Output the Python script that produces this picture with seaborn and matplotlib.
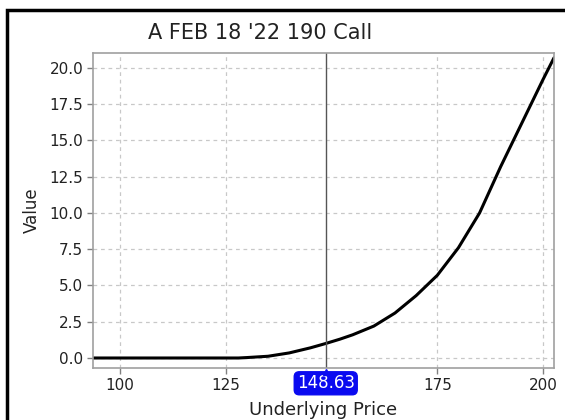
import numpy as np
import pandas as pd
import matplotlib.pyplot as plt
import seaborn as sns
from matplotlib.patches import Rectangle

# dados
precos = [93.6, 100, 105, 110, 115, 120, 125, 128, 130, 135, 140, 145, 148.63, 152, 155, 160, 165, 170, 175, 180, 185, 190, 195, 200, 202.6]
valores = [0.0, 0.0, 0.0, 0.0, 0.0, 0.0, 0.0, 0.0, 0.03, 0.12, 0.35, 0.7, 1.0, 1.3, 1.6, 2.2, 3.1, 4.3, 5.7, 7.6, 10.0, 13.2, 16.2, 19.2, 20.7]
x_ticks = [100, 125, 175, 200]
y_ticks = [0.0, 2.5, 5.0, 7.5, 10.0, 12.5, 15.0, 17.5, 20.0]
preco_atual = 148.63
titulo = "A FEB 18 '22 190 Call"

df = pd.DataFrame({"Underlying Price": precos, "Value": valores})

sns.set_style("white")
plt.rcParams["font.family"] = ["DejaVu Sans"]

fig = plt.figure(figsize=(5.65, 4.2), dpi=100)
ax = fig.add_axes([93 / 565, 52 / 420, (554 - 93) / 565, (368 - 53) / 420])

sns.lineplot(data=df, x="Underlying Price", y="Value", color="black", linewidth=2.2, ax=ax)

ax.set_xlim(93.6, 202.6)
ax.set_ylim(-0.69, 21.03)
ax.set_xticks(x_ticks)
ax.set_yticks(y_ticks)
ax.set_xticklabels([str(t) for t in x_ticks], fontsize=11, color="#222222")
ax.set_yticklabels([f"{t:.1f}" for t in y_ticks], fontsize=11, color="#222222")
ax.grid(True, linestyle=(0, (3, 3)), color="#c8c8c8", linewidth=0.9)
ax.tick_params(axis="both", direction="out", length=4, width=1, color="#808080", pad=3, left=True, bottom=True)
for s in ax.spines.values():
    s.set_color("#a0a0a0")
    s.set_linewidth(1.2)

ax.axvline(preco_atual, color="#555555", linewidth=1.0)

ax.set_xlabel("Underlying Price", fontsize=13, color="#222222", labelpad=6)
ax.set_ylabel("Value", fontsize=12, color="#222222", labelpad=6)
fig.text(260 / 565, 1 - 33 / 420, titulo, ha="center", va="center", fontsize=15, color="#222222")

# etiqueta azul do preço atual
ax.annotate(f"{preco_atual:.2f}", xy=(preco_atual, 0), xycoords=("data", "axes fraction"),
            xytext=(0, -11), textcoords="offset points", ha="center", va="center",
            fontsize=12, color="white",
            bbox=dict(boxstyle="round,pad=0.15,rounding_size=0.3", fc="#0a0af0", ec="#0a0af0"))
ax.plot([preco_atual], [-0.012], marker="^", color="#0a0af0", markersize=5,
        transform=ax.get_xaxis_transform(), clip_on=False, zorder=5)

# moldura da janela
fig.patches.append(Rectangle((7 / 565, -0.05), 1.1, 1 - 10 / 420 + 0.05, transform=fig.transFigure,
                             fill=False, ec="black", lw=2.5))

plt.savefig("out.png", dpi=100)
